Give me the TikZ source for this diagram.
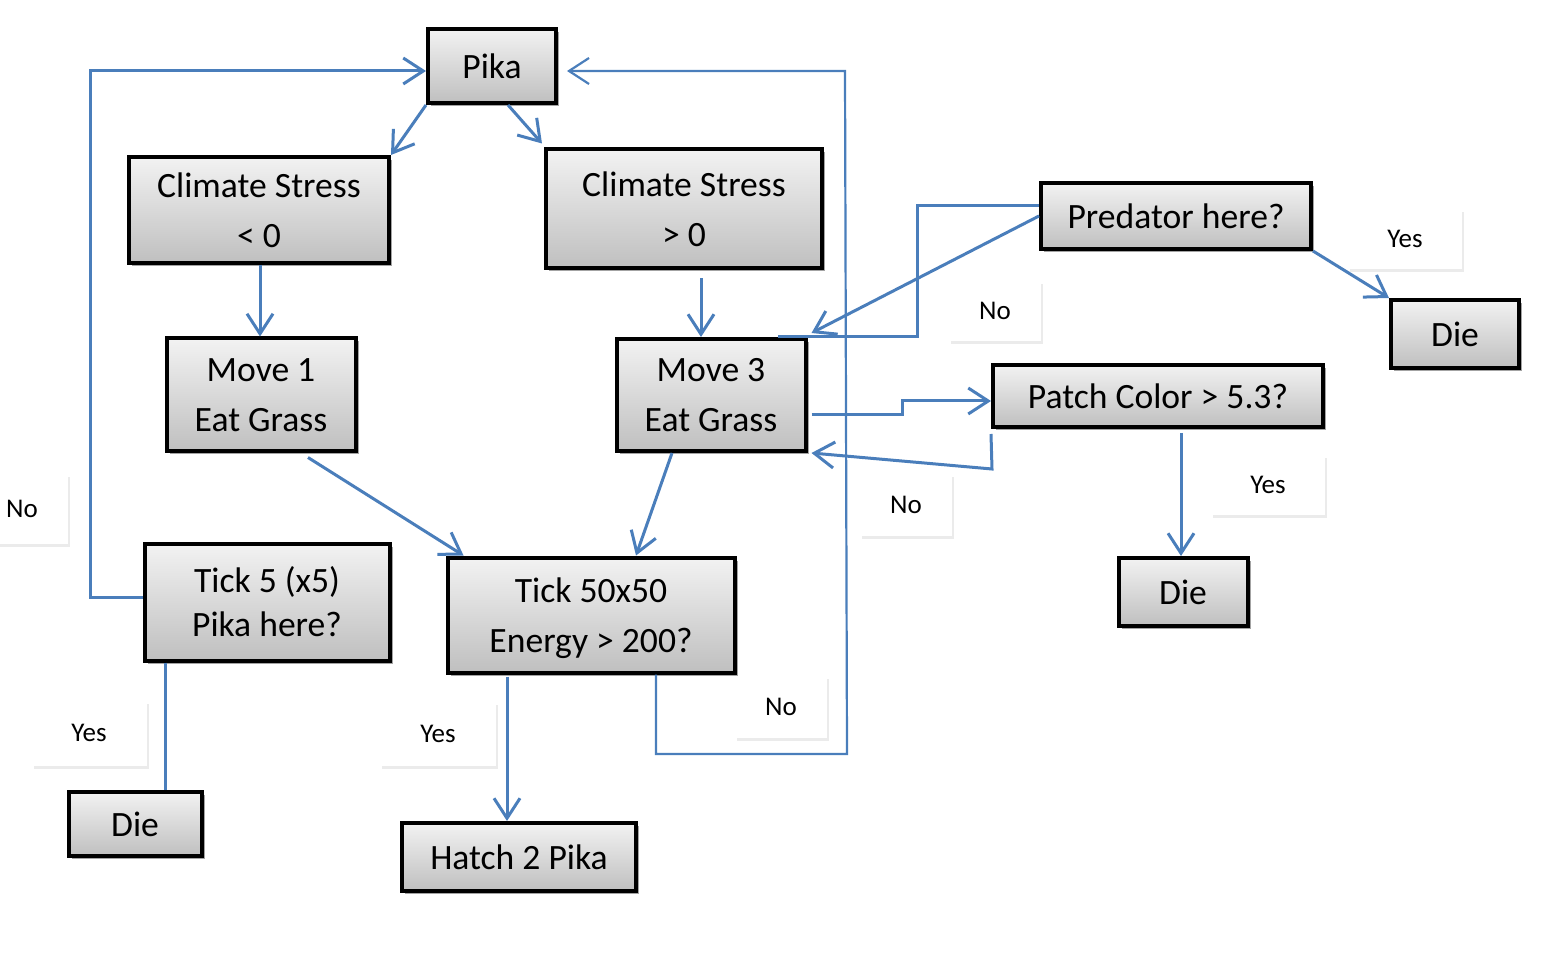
\documentclass[tikz,border=0pt]{standalone}
\usepackage{fontspec}
\setmainfont{Carlito}
\usetikzlibrary{arrows.meta,shadows}
\definecolor{flowblue}{HTML}{4A7EBB}

\begin{document}
\begin{tikzpicture}[x=0.5pt, y=-0.5pt]

\tikzset{
  box/.style = {draw, line width=2pt, top color=gray!10, bottom color=gray!50,
    align=center, inner sep=0pt, font=\fontsize{17.8}{25}\selectfont,
    drop shadow={shadow xshift=1.5pt, shadow yshift=-1.5pt, fill=black!60, opacity=.6}},
  twoline/.style = {text depth=-5pt},
  lbl/.style = {fill=white, inner sep=0pt, minimum height=30pt,
    font=\fontsize{13.5}{16}\selectfont,
    drop shadow={shadow xshift=1pt, shadow yshift=-1.5pt, fill=black!20, opacity=.4}},
  flow/.style = {draw=flowblue, line width=1.5pt, -{Straight Barb[length=10pt, width=13pt]}},
  link/.style = {draw=flowblue, line width=1.5pt}
}

\useasboundingbox (0,0) rectangle (1542,962);

\node[box, minimum width=64pt, minimum height=37pt] (pika) at (492,66) {Pika};
\node[box, twoline, minimum width=130pt, minimum height=53pt] (stressA) at (259,210) {Climate Stress\\ \textless{} 0};
\node[box, twoline, minimum width=138pt, minimum height=59.5pt] (stressB) at (684,209) {Climate Stress\\ \textgreater{} 0};
\node[box, twoline, minimum width=94.5pt, minimum height=56.5pt] (moveA) at (261,395) {Move 1\\ Eat Grass};
\node[box, twoline, minimum width=94.5pt, minimum height=56pt] (moveB) at (711,395) {Move 3\\ Eat Grass};
\node[box, minimum width=135pt, minimum height=33pt] (pred) at (1176,216) {Predator here?};
\node[box, minimum width=64pt, minimum height=34pt] (dieA) at (1455,334) {Die};
\node[box, minimum width=165pt, minimum height=31pt] (patch) at (1158,396) {Patch Color \textgreater{} 5.3?};
\node[box, minimum width=64.5pt, minimum height=34pt] (dieB) at (1183,592) {Die};
\node[box, minimum width=122.5pt, minimum height=58.5pt, font=\fontsize{17.8}{22}\selectfont] (tickA) at (267,602) {Tick 5 (x5)\\ Pika here?};
\node[box, twoline, minimum width=143.5pt, minimum height=57.5pt] (tickB) at (591,615) {Tick 50x50\\ Energy \textgreater{} 200?};
\node[box, minimum width=66.5pt, minimum height=32pt] (dieC) at (135,824) {Die};
\node[box, minimum width=117pt, minimum height=34pt] (hatch) at (519,857) {Hatch 2 Pika};

\node[lbl, minimum width=46pt, minimum height=35pt] (noA) at (22,509) {No};
\node[lbl, minimum width=57pt] (yesA) at (1405,239) {Yes};
\node[lbl, minimum width=46pt] (noB) at (995,311) {No};
\node[lbl, minimum width=46pt, minimum height=31pt] (noC) at (906,505) {No};
\node[lbl, minimum width=57pt] (yesB) at (1268,485) {Yes};
\node[lbl, minimum width=57.5pt, minimum height=32.5pt] (yesC) at (89,733) {Yes};
\node[lbl, minimum width=58pt, minimum height=32pt] (yesD) at (438,734) {Yes};
\node[lbl, minimum width=46pt, minimum height=31pt] (noD) at (781,707) {No};

\coordinate (loopA) at (90,71);
\coordinate (loopB) at (847,754);
\coordinate (loopC) at (845,71);
\coordinate (bendA) at (917,337);
\coordinate (bendB) at (902,415);
\coordinate (bendC) at (992,469);

\draw[flow] (pika.south west) -- (stressA.north east);
\draw[flow] ([xshift=8pt]pika.south) -- ([xshift=-1pt,yshift=2pt]stressB.north west);
\draw[flow] ([xshift=0.5pt]stressA.south) -- ([xshift=0.5pt]stressA.south |- moveA.north);
\draw[flow] ([xshift=8.5pt,yshift=-4pt]stressB.south) -- ([xshift=8.5pt]stressB.south |- moveB.north);
\draw[flow] ([xshift=23.5pt,yshift=-2pt]moveA.south) -- ([xshift=9pt]tickB.north west);
\draw[flow] ([xshift=-19.5pt]moveB.south) -- ([xshift=22.5pt]tickB.north);
\draw[flow] ([yshift=2.5pt]tickA.west) -| (loopA) -- ([yshift=-2.5pt]pika.west);
\draw[link] ([xshift=-51pt]tickA.south) -- ([xshift=15pt]dieC.north);
\draw[flow] ([xshift=-42pt,yshift=-1pt]tickB.south) -- ([xshift=-42pt]tickB.south |- hatch.north);
\draw[flow, line width=1.1pt] ([xshift=32.5pt]tickB.south) |- (loopB) -- (loopC) -- ([xshift=4.5pt,yshift=-2.5pt]pika.east);
\draw[flow] (pred.west) -- ([xshift=2pt,yshift=2pt]moveB.north east);
\draw[link] ([yshift=5pt]pred.west) -| (bendA) -- ([xshift=-15pt]moveB.north east);
\draw[flow] ([xshift=2pt,yshift=-10pt]moveB.east) -- (bendB) |- ([yshift=-2.5pt]patch.west);
\draw[flow] ([yshift=-2.5pt]patch.south west) -- (bendC) -- ([xshift=2pt]moveB.south east);
\draw[flow] ([xshift=11.5pt,yshift=-2pt]patch.south) -- ([xshift=11.5pt]patch.south |- dieB.north);
\draw[flow] (pred.south east) -- (dieA.north west);

\end{tikzpicture}
\end{document}
